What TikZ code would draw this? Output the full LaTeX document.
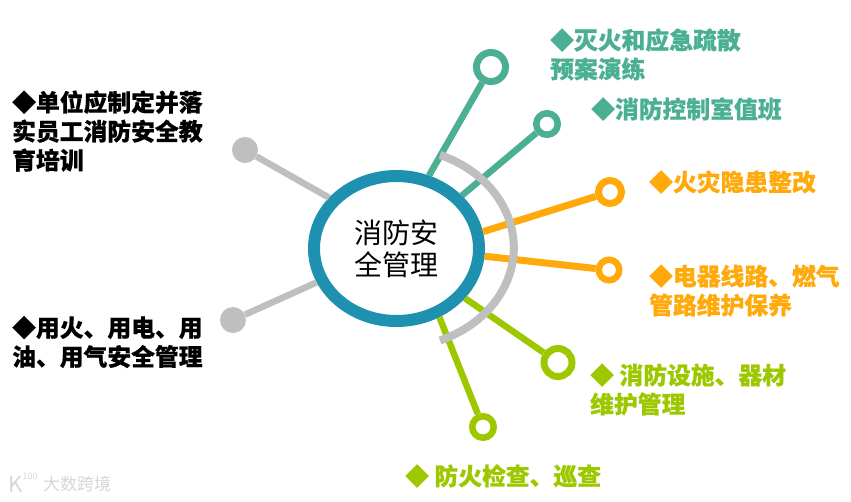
\documentclass[tikz,border=0pt]{standalone}
\usepackage{fontspec}
\setmainfont{Noto Sans CJK SC}[BoldFeatures={FakeBold=0.5}]
\usetikzlibrary{shapes.geometric}
\definecolor{hubblue}{HTML}{1F91B0}
\definecolor{tealgreen}{HTML}{4BAF93}
\definecolor{amber}{HTML}{FFA90A}
\definecolor{limegreen}{HTML}{9DC800}
\definecolor{linegray}{HTML}{BFBFBF}
\tikzset{
  hubnode/.style={ellipse, draw=hubblue, line width=12pt, fill=white, inner sep=0pt, minimum width=165pt, minimum height=145pt, align=center, font=\fontsize{28}{32}\selectfont},
  ringnode/.style={circle, draw=#1, fill=white, inner sep=0pt},
  dotnode/.style={circle, fill=linegray, inner sep=0pt, minimum size=26pt},
  label/.style={anchor=west, align=left, inner sep=0pt, text=#1, font=\fontsize{23.8}{29}\selectfont\bfseries},
  spoke/.style={draw=#1, line width=6.5pt},
}
\begin{document}
\begin{tikzpicture}[x=1pt, y=-1pt]
    \useasboundingbox (0,0) rectangle (851,501);

    % 中心
    \node[hubnode] (hub) at (396.5,248.5) {消防安\\全管理};

    % 端点
    \node[ringnode=tealgreen, line width=7pt, minimum size=29pt] (drill) at (491,67) {};
    \node[ringnode=tealgreen, line width=6.5pt, minimum size=21.5pt] (duty) at (547,124) {};
    \node[ringnode=amber, line width=7pt, minimum size=23pt] (hazard) at (610,192) {};
    \node[ringnode=amber, line width=6.5pt, minimum size=20.5pt] (wiring) at (609,270) {};
    \node[ringnode=limegreen, line width=7pt, minimum size=28pt] (device) at (558,362.5) {};
    \node[ringnode=limegreen, line width=6.5pt, minimum size=21.5pt] (patrol) at (483,427) {};
    \node[dotnode] (training) at (245,150) {};
    \node[dotnode] (usage) at (233,320) {};

    % 连线
    \draw[spoke=tealgreen] (hub.66) -- (drill);
    \draw[spoke=tealgreen] (hub.39) -- (duty);
    \draw[spoke=amber, line width=7pt] (hub.11) -- (hazard);
    \draw[spoke=amber, line width=7pt] (hub.-5.4) -- (wiring);
    \draw[spoke=limegreen] (hub.-36) -- (device);
    \draw[spoke=limegreen] (hub.-58) -- (patrol);
    \draw[spoke=linegray] (hub.143) -- (training);
    \draw[spoke=linegray] (hub.203) -- (usage);

    % 外侧灰色圆弧
    \draw[linegray, line width=8pt] (440,155) arc[start angle=68, end angle=-68, x radius=118pt, y radius=100pt];

    % 左侧文字
    \node[label=black] (trainingtext) at (12,131) {◆单位应制定并落\\实员工消防安全教\\育培训};
    \node[label=black] (usagetext) at (12,342) {◆用火、用电、用\\油、用气安全管理};

    % 右侧文字
    \node[label=tealgreen] (drilltext) at (550,54.5) {◆灭火和应急疏散\\预案演练};
    \node[label=tealgreen] (dutytext) at (591,109) {◆消防控制室值班};
    \node[label=amber] (hazardtext) at (649,182) {◆火灾隐患整改};
    \node[label=amber] (wiringtext) at (649,290.5) {◆电器线路、燃气\\管路维护保养};
    \node[label=limegreen] (devicetext) at (590,389.5) {◆ 消防设施、器材\\维护管理};
    \node[label=limegreen] (patroltext) at (405,476) {◆ 防火检查、巡查};

    % 水印
    \node[text=black!16, inner sep=0pt, font=\fontsize{17}{17}\selectfont] (mark) at (77,484) {大数跨境};
    \node[text=black!16, inner sep=0pt, font=\fontsize{22}{22}\selectfont] (logo) at (16,484) {K};
    \node[text=black!16, inner sep=0pt, font=\fontsize{9}{9}\selectfont] (logonum) at (30,476) {100};
\end{tikzpicture}
\end{document}
